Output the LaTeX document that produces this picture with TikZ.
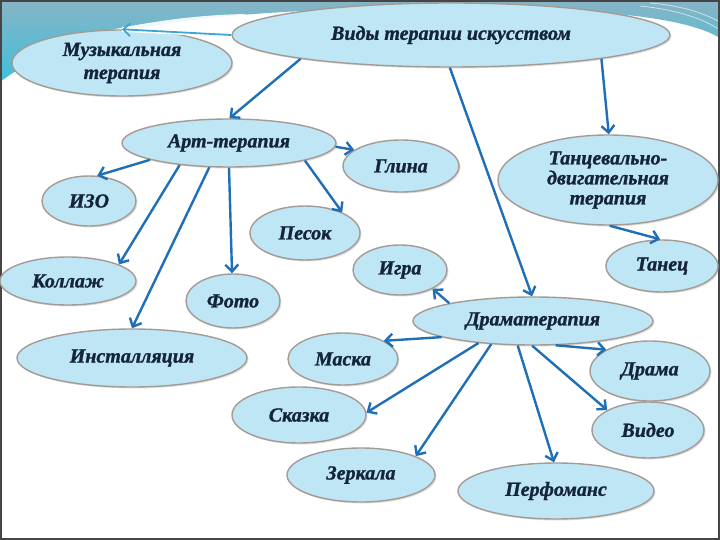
\documentclass[tikz,border=0pt]{standalone}
\usepackage{fontspec}
\setmainfont{Liberation Serif}[BoldItalicFeatures={FakeBold=1.2}]
\usetikzlibrary{shapes.geometric,arrows.meta,shadows}
\definecolor{ellfill}{RGB}{190,230,245}
\definecolor{elldraw}{RGB}{165,155,150}
\definecolor{txtcol}{RGB}{20,36,58}
\definecolor{arrcol}{RGB}{30,111,184}
\definecolor{bandtop}{RGB}{135,180,198}
\definecolor{bandbot}{RGB}{62,192,218}
\definecolor{framecol}{RGB}{70,70,72}
\begin{document}
\begin{tikzpicture}[x=1pt,y=-1pt,
  ell/.style={ellipse,inner sep=0pt,fill=ellfill,draw=elldraw,line width=1.4pt,
    drop shadow={opacity=0.25,shadow xshift=1.5pt,shadow yshift=-1.5pt},
    font=\fontsize{20}{23}\selectfont\bfseries\itshape,text=txtcol,align=center},
  arr/.style={draw=arrcol,line width=2.4pt,-{Straight Barb[length=7pt,width=13pt]}}]
\useasboundingbox (0,0) rectangle (720,540);
\fill[white] (0,0) rectangle (720,540);
% decorative band
\shade[top color=bandtop,bottom color=bandbot]
  (0,0) -- (720,0) -- (720,38) .. controls (690,20) and (620,8) .. (450,8)
  .. controls (250,8) and (80,20) .. (0,82) -- cycle;
\fill[white,opacity=0.9] (110,30) .. controls (160,20) and (200,15) .. (245,14)
  -- (245,34) .. controls (200,30) and (150,29) .. (110,30) -- cycle;
\draw[white,opacity=0.6,line width=0.8pt] (640,6) .. controls (680,10) and (705,20) .. (720,30);
\draw[white,opacity=0.6,line width=0.8pt] (650,3) .. controls (685,6) and (705,14) .. (720,22);
% frame
\draw[framecol,line width=2pt] (1,1) rectangle (719,539);
% nodes
\node[ell,minimum width=438pt,minimum height=64pt] (vidy) at (451,35) {Виды терапии искусством};
\node[ell,minimum width=220pt,minimum height=66pt] (muz) at (122,63) {Музыкальная\\терапия};
\node[ell,minimum width=214pt,minimum height=48pt] (art) at (229,143) {Арт-терапия};
\node[ell,minimum width=116pt,minimum height=52pt] (glina) at (401,166) {Глина};
\node[ell,minimum width=220pt,minimum height=90pt,font=\fontsize{20}{20}\selectfont\bfseries\itshape] (tanc) at (608,180) {Танцевально-\\двигательная\\терапия};
\node[ell,minimum width=94pt,minimum height=50pt] (izo) at (89,201) {ИЗО};
\node[ell,minimum width=110pt,minimum height=54pt] (pesok) at (305,233) {Песок};
\node[ell,minimum width=136pt,minimum height=48pt] (kollazh) at (68,281) {Коллаж};
\node[ell,minimum width=94pt,minimum height=54pt] (foto) at (233,301) {Фото};
\node[ell,minimum width=94pt,minimum height=50pt] (igra) at (400,270) {Игра};
\node[ell,minimum width=112pt,minimum height=52pt] (tanec) at (662,266) {Танец};
\node[ell,minimum width=240pt,minimum height=48pt] (dram) at (533,321) {Драматерапия};
\node[ell,minimum width=230pt,minimum height=58pt] (inst) at (132,358) {Инсталляция};
\node[ell,minimum width=110pt,minimum height=52pt] (maska) at (343,359) {Маска};
\node[ell,minimum width=120pt,minimum height=60pt] (drama) at (650,371) {Драма};
\node[ell,minimum width=134pt,minimum height=56pt] (skazka) at (299,415) {Сказка};
\node[ell,minimum width=112pt,minimum height=56pt] (video) at (648,430) {Видео};
\node[ell,minimum width=148pt,minimum height=54pt] (zerk) at (361,475) {Зеркала};
\node[ell,minimum width=196pt,minimum height=56pt] (perf) at (556,491) {Перфоманс};
% connectors
\draw[white,line width=5pt] (vidy.180) -- (muz.90);
\draw[draw={rgb,255:red,60;green,165;blue,215},line width=1.8pt,-{Straight Barb[length=7pt,width=13pt]}] (vidy.180) -- (muz.90);
\draw[arr] (vidy.189) -- (art.89);
\draw[arr] (vidy.268) -- (dram.92);
\draw[arr] (vidy.351) -- (tanc.89);
\draw[arr] (art.358) -- (glina.161);
\draw[arr] (art.192.6) -- (izo.72);
\draw[arr] (art.204.4) -- (kollazh.18.8);
\draw[arr] (art.231.6) -- (inst.90);
\draw[arr] (art.270) -- (foto.92);
\draw[arr] (art.347.2) -- (pesok.29.6);
\draw[arr] (tanc.272.6) -- (tanec.94);
\draw[arr] (dram.168.7) -- (igra.330.6);
\draw[arr] (dram.190.7) -- (maska.24.9);
\draw[arr] (dram.313.8) -- (drama.154.5);
\draw[arr] (dram.202) -- (skazka.2);
\draw[arr] (dram.209.2) -- (zerk.19.1);
\draw[arr] (dram.238) -- (perf.94);
\draw[arr] (dram.268) -- (video.154);
\end{tikzpicture}
\end{document}
